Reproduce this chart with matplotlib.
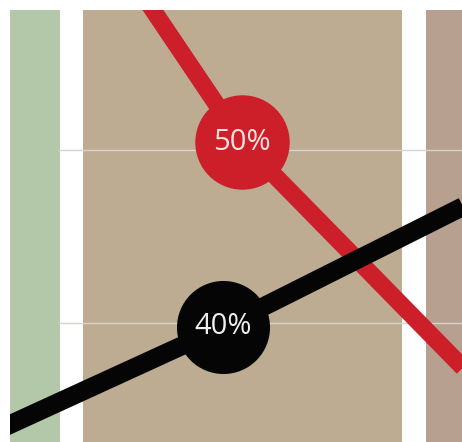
import matplotlib
matplotlib.use("Agg")
import matplotlib.pyplot as plt

# Background period bands (x start, x end, colour)
band_start = [0.0, 7.3, 41.6]
band_end = [5.0, 39.2, 48.0]
band_colors = ["#b3c8a9", "#bdac91", "#b8a091"]

# Gridline values (%)
grid_values = [40, 50]

# Red series
red_x = [10.9, 23.2, 47.2]
red_y = [61.0, 50.45, 36.3]
# Black series
black_x = [-2.0, 21.3, 47.2]
black_y = [33.6, 39.77, 47.28]

# Labelled points
red_label_x, red_label_y, red_label = 23.2, 50.45, "50%"
black_label_x, black_label_y, black_label = 21.3, 39.77, "40%"

W, H = 462, 442
fig = plt.figure(figsize=(W / 100, H / 100), dpi=100)
fig.patch.set_facecolor("white")
ax = fig.add_axes([10 / W, 0, 452 / W, 432 / H])
ax.set_xlim(0, 45.2)
ax.set_ylim(33.12, 58.09)
ax.axis("off")

for s, e, c in zip(band_start, band_end, band_colors):
    ax.bar(s, 100, width=e - s, bottom=0, align="edge", color=c, zorder=1, linewidth=0)

for g in grid_values:
    ax.hlines(g, 4.8, 45.2, colors="#d6d4d0", linewidth=1.0, zorder=2)

ax.plot(red_x, red_y, color="#cc1f29", linewidth=12.5, solid_joinstyle="miter",
        solid_capstyle="butt", zorder=3)
ax.plot(black_x, black_y, color="#050505", linewidth=13.5, solid_joinstyle="miter",
        solid_capstyle="butt", zorder=4)

ax.plot([red_label_x], [red_label_y], "o", markersize=68, color="#cc1f29",
        markeredgewidth=0, zorder=5)
ax.plot([black_label_x], [black_label_y], "o", markersize=67, color="#050505",
        markeredgewidth=0, zorder=5)

ax.text(red_label_x, red_label_y, red_label, color="#f7e2df", fontsize=21,
        family=["Open Sans", "DejaVu Sans"], ha="center", va="center", zorder=6)
ax.text(black_label_x, black_label_y, black_label, color="#eeeeee", fontsize=21,
        family=["Open Sans", "DejaVu Sans"], ha="center", va="center", zorder=6)

fig.savefig("out.png", dpi=100, facecolor="white")
